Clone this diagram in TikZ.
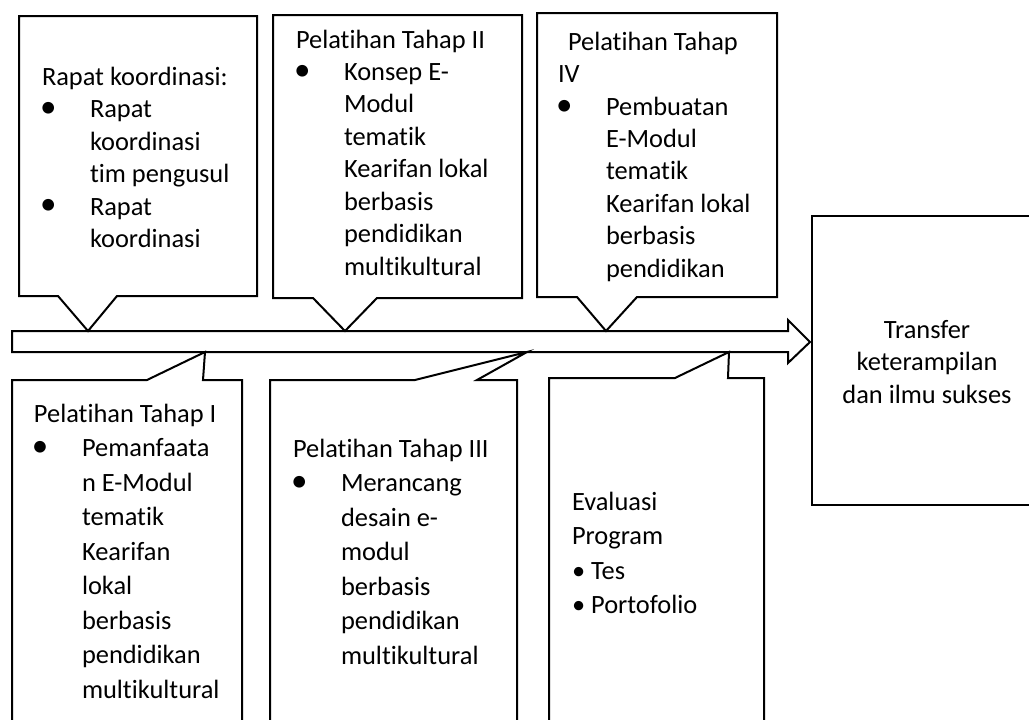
\documentclass[tikz,border=0pt]{standalone}
\usepackage{fontspec}
\setmainfont[Ligatures={NoCommon}]{Carlito}
\newcommand{\bigdot}{\scalebox{1.25}{\textbullet}}
\newcommand{\blt}{\makebox[48pt][l]{\hspace{-2pt}\bigdot}}
\newcommand{\hd}[1]{\multicolumn{2}{@{}l@{}}{#1}}
\newcommand{\lst}[1]{\begin{tabular}[t]{@{}l@{}l@{}}#1\end{tabular}}
\begin{document}
\begin{tikzpicture}[x=1pt, y=-1pt, line width=2pt, line join=miter,
  txt/.style={anchor=base west, inner sep=0pt, font=\fontsize{26.4}{32.5}\selectfont},
  txtlow/.style={txt, font=\fontsize{26.4}{34.5}\selectfont}]
  \useasboundingbox (0,0) rectangle (1029,720);
  \clip (0,0) rectangle (1029,720);
  % timeline arrow
  \draw[fill=white] (12,331) -- (788,331) -- (788,320) -- (810,342) -- (788,363) -- (788,352) -- (12,352) -- cycle;
  % callouts above the arrow
  \foreach \l/\t/\r/\b/\pa/\tip/\pb in {19/16/257/296/58/88/117,
      273/15/522/298/313/345/377, 537/13/777/297/577/606/637}
    \draw[fill=white] (\l,\t) -- (\r,\t) -- (\r,\b) -- (\pb,\b) -- (\tip,331) -- (\pa,\b) -- (\l,\b) -- cycle;
  % callouts below the arrow, running off the page
  \foreach \l/\t/\r/\pa/\tip/\pb in {12/380/242/147/205/203,
      270/380/517/415/527/477, 549/378/764/675/729/728}
    \draw[fill=white] (\l,730) -- (\l,\t) -- (\pa,\t) -- (\tip,352) -- (\pb,\t) -- (\r,\t) -- (\r,730);
  % result box
  \draw (1040,216) -- (812,216) -- (812,505) -- (1040,505);

  \node[txt] (rapat) at (41,85) {\lst{\hd{Rapat koordinasi:}\\ \blt & Rapat\\ & koordinasi\\
    & tim pengusul\\ \blt & Rapat\\ & koordinasi}};
  \node[txt] (tahapII) at (295,48) {\lst{\hd{Pelatihan Tahap II}\\ \blt & Konsep E-\\ & Modul\\
    & tematik\\ & Kearifan lokal\\ & berbasis\\ & pendidikan\\ & multikultural}};
  \node[txt] (tahapIV) at (557,50) {\lst{\hd{\hspace*{10pt}Pelatihan Tahap}\\ \hd{IV}\\ \blt & Pembuatan\\
    & E-Modul\\ & tematik\\ & Kearifan lokal\\ & berbasis\\ & pendidikan}};
  \node[txtlow] (tahapI) at (33,422) {\lst{\hd{Pelatihan Tahap I}\\ \blt & Pemanfaata\\ & n E-Modul\\
    & tematik\\ & Kearifan\\ & lokal\\ & berbasis\\ & pendidikan\\ & multikultural}};
  \node[txtlow] (tahapIII) at (292,457) {\lst{\hd{Pelatihan Tahap III}\\ \blt & Merancang\\ & desain e-\\
    & modul\\ & berbasis\\ & pendidikan\\ & multikultural}};
  \node[txtlow] (evaluasi) at (571,510) {\lst{\hd{Evaluasi}\\ \hd{Program}\\ \hd{\textbullet{} Tes}\\
    \hd{\textbullet{} Portofolio}}};
  \node[txt, anchor=base] (transfer) at (927,338) {\begin{tabular}[t]{@{}c@{}}Transfer\\
    keterampilan\\ dan ilmu sukses\end{tabular}};
\end{tikzpicture}
\end{document}
